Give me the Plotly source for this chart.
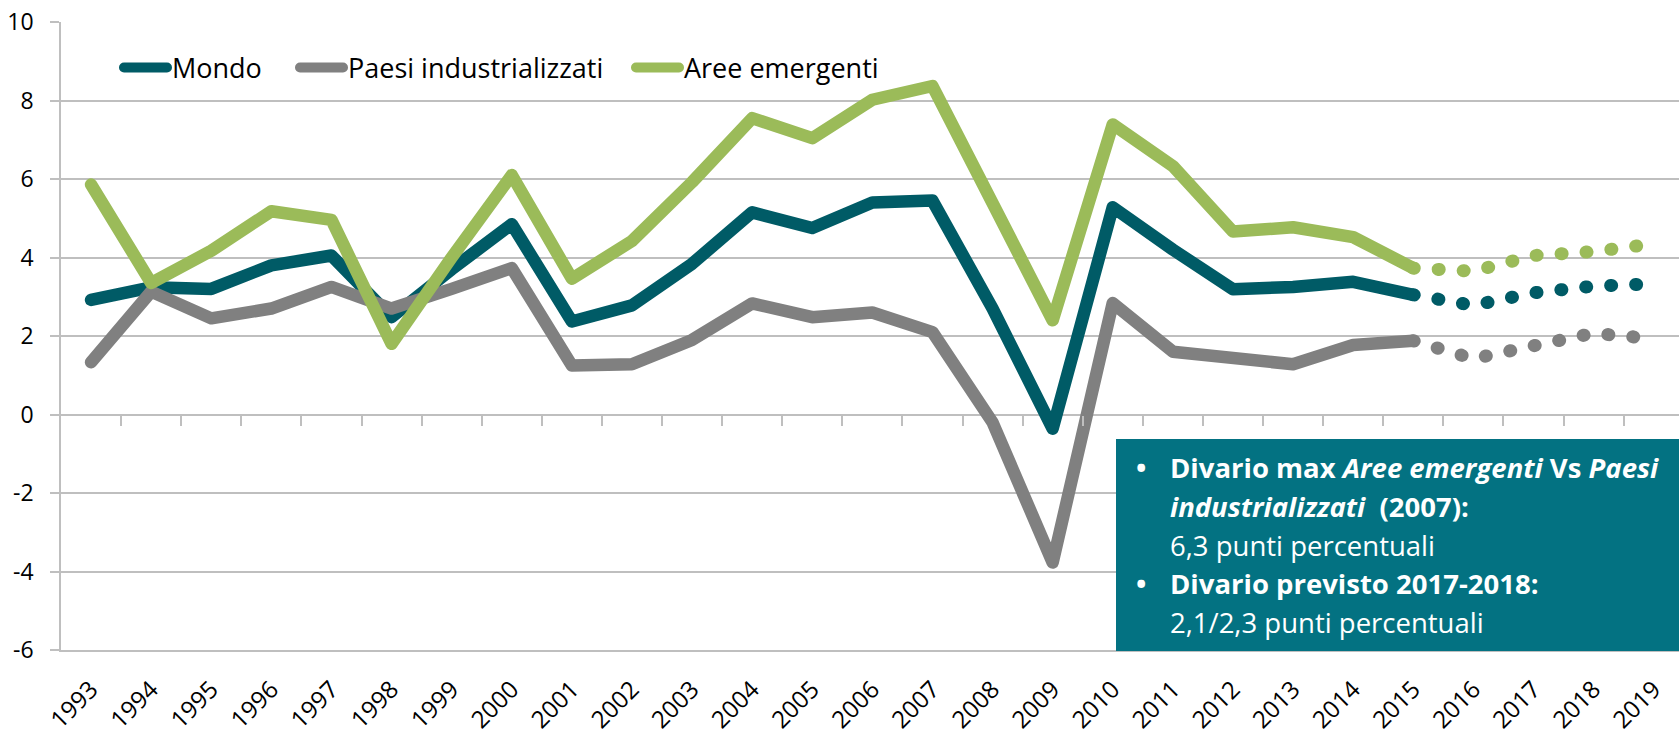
import plotly.graph_objects as go

# ---------------- data ----------------
years = list(range(1993, 2020))
last_actual = 2015

mondo = [2.92, 3.24, 3.20, 3.80, 4.05, 2.48, 3.70, 4.85, 2.37, 2.78, 3.84, 5.15, 4.75, 5.40,
         5.45, 2.70, -0.36, 5.28, 4.20, 3.19, 3.25, 3.38, 3.05,
         2.78, 3.10, 3.27, 3.33]
paesi_ind = [1.33, 3.13, 2.45, 2.70, 3.25, 2.70, 3.20, 3.73, 1.25, 1.28, 1.90, 2.83, 2.48, 2.60,
             2.10, -0.20, -3.77, 2.84, 1.60, 1.45, 1.28, 1.77, 1.88,
             1.42, 1.75, 2.07, 1.93]
aree_em = [5.86, 3.35, 4.17, 5.18, 4.96, 1.80, 4.00, 6.10, 3.46, 4.42, 5.92, 7.55, 7.04, 8.02,
           8.37, 5.30, 2.40, 7.39, 6.33, 4.66, 4.77, 4.52, 3.73,
           3.65, 4.05, 4.15, 4.35]

series_names = ["Mondo", "Paesi industrializzati", "Aree emergenti"]
series_values = [mondo, paesi_ind, aree_em]
series_colors = ["#005B66", "#808080", "#9BBB59"]

y_ticks = [-6, -4, -2, 0, 2, 4, 6, 8, 10]
y_ticklabels = ["-6", "-4", "-2", "0", "2", "4", "6", "8", "10"]
x_ticklabels = [str(y) for y in years]

box_lines = [
    "<b>Divario max <i>Aree emergenti</i> Vs <i>Paesi</i></b>",
    "<b><i>industrializzati</i>  (2007):</b>",
    "6,3 punti percentuali",
    "<b>Divario previsto 2017-2018:</b>",
    "2,1/2,3 punti percentuali",
]
bullet_rows = [0, 3]

# ---------------- geometry ----------------
W, H = 1679, 736
ML, MR, MT, MB = 61, 0, 22, 86
PW, PH = W - ML - MR, H - MT - MB
cat_px = 60.1
x_range = [years[0] - 0.5, years[0] - 0.5 + PW / cat_px]
y_range = [-6, 10]


def px_x(X):
    return (X - ML) / PW


def px_y(Y):
    return (H - MB - Y) / PH


FONT = "Open Sans"
GRID = "#BFBFBF"

fig = go.Figure()

split = years.index(last_actual)
legend_ids = ["legend", "legend2", "legend3"]
for name, vals, col, lg in zip(series_names, series_values, series_colors, legend_ids):
    fig.add_trace(go.Scatter(
        x=years[:split + 1], y=vals[:split + 1], mode="lines", name=name,
        line=dict(color=col, width=12.5), legend=lg, hoverinfo="skip"))
for name, vals, col in zip(series_names, series_values, series_colors):
    fig.add_trace(go.Scatter(
        x=years[split:], y=vals[split:], mode="lines", name=name + " (previsione)",
        line=dict(color=col, width=13, dash="1px,24px"), showlegend=False,
        xaxis="x2", hoverinfo="skip"))

legend_common = dict(orientation="h", xanchor="left", yanchor="middle",
                     bgcolor="rgba(0,0,0,0)", borderwidth=0,
                     font=dict(family=FONT, size=27, color="#000000"),
                     itemwidth=43, itemclick=False, itemdoubleclick=False)
legend_text_x = [171, 347, 683]
legend_y = px_y(68)

layout_legends = {}
for lg, tx in zip(legend_ids, legend_text_x):
    layout_legends[lg] = dict(legend_common, x=px_x(tx - 52), y=legend_y)

annotations = []
line_centers = [468, 506.5, 545, 583.5, 622]
for i, (txt, yc) in enumerate(zip(box_lines, line_centers)):
    annotations.append(dict(
        xref="paper", yref="paper", x=px_x(1168), y=px_y(yc), xanchor="left", yanchor="middle",
        text=txt, showarrow=False, align="left",
        font=dict(family=FONT, size=27.5, color="#FFFFFF")))
for r in bullet_rows:
    annotations.append(dict(
        xref="paper", yref="paper", x=px_x(1141), y=px_y(line_centers[r]), xanchor="center",
        yanchor="middle", text="<b>•</b>", showarrow=False,
        font=dict(family=FONT, size=27.5, color="#FFFFFF")))

shapes = [dict(type="rect", xref="paper", yref="paper", x0=px_x(1116), x1=1.02,
               y0=px_y(651), y1=px_y(439), fillcolor="#037282", line=dict(width=0),
               layer="above")]

fig.update_layout(
    width=W, height=H,
    margin=dict(l=ML, r=MR, t=MT, b=MB, pad=0, autoexpand=False),
    plot_bgcolor="#FFFFFF", paper_bgcolor="#FFFFFF",
    font=dict(family=FONT, color="#000000"),
    xaxis=dict(range=x_range, tickmode="array", tickvals=years, ticktext=x_ticklabels,
               tickangle=-45, ticks="", showgrid=False, zeroline=False,
               showline=True, linecolor=GRID, linewidth=1.5, automargin=False,
               tickfont=dict(family=FONT, size=24, color="#000000"),
               ticklabelstandoff=14, fixedrange=True),
    xaxis2=dict(range=x_range, overlaying="x", anchor="free",
                position=(0 - y_range[0]) / (y_range[1] - y_range[0]),
                tickmode="array", tickvals=[y + 0.5 for y in years[:-1]],
                ticks="outside", ticklen=10, tickwidth=1.5, tickcolor=GRID,
                showticklabels=False, showgrid=False, zeroline=False, showline=False,
                automargin=False, fixedrange=True),
    yaxis=dict(range=y_range, tickmode="array", tickvals=y_ticks, ticktext=y_ticklabels,
               ticks="outside", ticklen=9, tickwidth=1.5, tickcolor=GRID,
               showgrid=True, gridcolor=GRID, gridwidth=1.5, zeroline=False,
               showline=True, linecolor=GRID, linewidth=1.5, automargin=False,
               tickfont=dict(family=FONT, size=23, color="#000000"),
               ticklabelstandoff=12, fixedrange=True),
    showlegend=True,
    annotations=annotations,
    shapes=shapes,
    **layout_legends,
)

css_js = (
    "var s=document.createElement('style');"
    "s.innerHTML='html,body{margin:0 !important;padding:0 !important;overflow:hidden;}"
    ".js-line{stroke-linecap:round !important;stroke-linejoin:round !important;}';"
    "document.head.appendChild(s);"
)

fig.write_html("out.html", config={"displayModeBar": False}, post_script=css_js)
